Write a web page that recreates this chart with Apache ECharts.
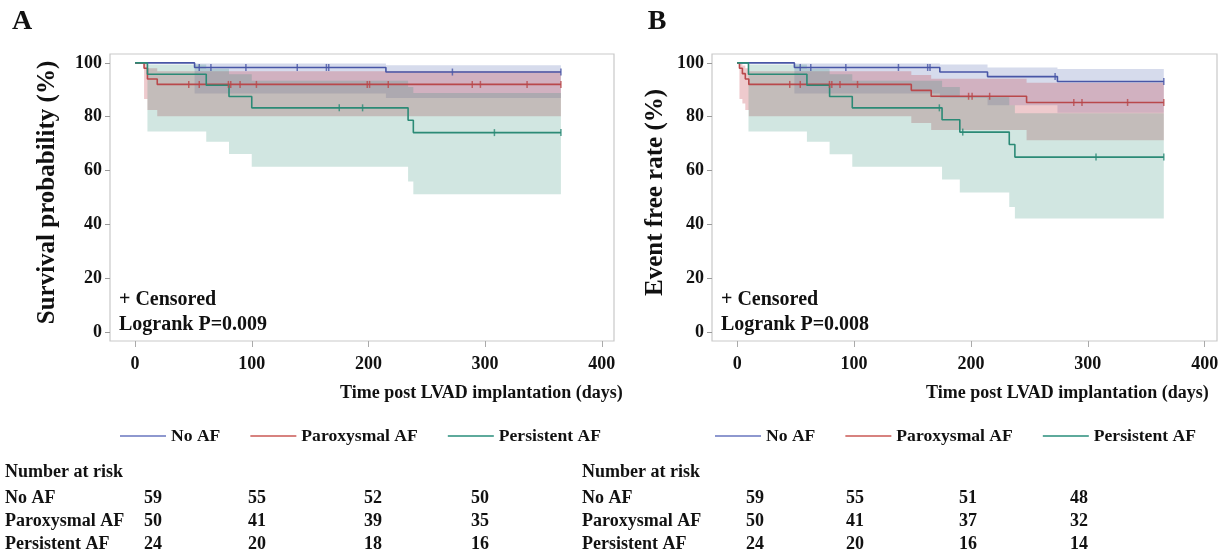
<!DOCTYPE html>
<html><head><meta charset="utf-8">
<script src="https://cdn.jsdelivr.net/npm/echarts@6/dist/echarts.min.js"></script>
<style>html,body{margin:0;padding:0;background:#fff}#c{width:1224px;height:558px}</style>
</head><body><div id="c"></div>
<script>
const FONT = '"Liberation Serif", "Times New Roman", serif';
const groups = ['No AF', 'Paroxysmal AF', 'Persistent AF'];
const END_DAY = 365;
const xTicks = [0, 100, 200, 300, 400];
const yTicks = [0, 20, 40, 60, 80, 100];

// ---- Panel A : survival ----
const A_noAF_t   = [0, 51, 215];
const A_noAF_s   = [100, 98.3, 96.6];
const A_noAF_lo  = [100, 88.6, 87.0];
const A_noAF_hi  = [100, 99.8, 99.1];
const A_noAF_cens = [55, 65, 95, 139, 164, 166, 272, 365];

const A_parox_t  = [0, 7.7, 10.6, 19];
const A_parox_s  = [100, 98, 94, 92];
const A_parox_lo = [100, 86.6, 82.5, 80.2];
const A_parox_hi = [100, 99.7, 98.0, 96.9];
const A_parox_cens = [46, 55, 80, 82, 90, 104, 199, 201, 217, 289, 296, 336, 365];

const A_pers_t   = [0, 10.6, 61, 80.5, 100, 234, 238.5];
const A_pers_s   = [100, 95.8, 91.7, 87.5, 83.3, 78.7, 74.1];
const A_pers_lo  = [100, 74.5, 70.7, 66.2, 61.4, 55.9, 51.2];
const A_pers_hi  = [100, 99.4, 97.8, 95.8, 93.4, 91.0, 88.8];
const A_pers_cens = [175, 195, 308, 365];

// ---- Panel B : event free ----
const B_noAF_t   = [0, 49, 173.4, 214.2, 274];
const B_noAF_s   = [100, 98.3, 96.6, 94.9, 93.1];
const B_noAF_lo  = [100, 88.6, 87.0, 84.3, 81.5];
const B_noAF_hi  = [100, 99.8, 99.4, 98.3, 97.7];
const B_noAF_cens = [54, 63, 93, 138, 163, 165, 272, 365];

const B_parox_t  = [0, 2, 4.5, 7, 10, 149, 166, 247.6];
const B_parox_s  = [100, 98, 96, 94, 92, 89.8, 87.6, 85.3];
const B_parox_lo = [100, 86.6, 84.9, 82.5, 80.2, 77.7, 75.1, 71.3];
const B_parox_hi = [100, 99.7, 99.0, 98.0, 96.9, 95.5, 94.1, 92.6];
const B_parox_cens = [45, 54, 79, 81, 88, 103, 198, 201, 216, 288, 295, 334, 365];

const B_pers_t   = [0, 9.7, 59.7, 79.1, 98.5, 175.3, 190.5, 232.8, 237.6];
const B_pers_s   = [100, 95.8, 91.7, 87.5, 83.3, 78.9, 74.3, 69.7, 65.0];
const B_pers_lo  = [100, 74.5, 70.7, 66.1, 61.4, 56.7, 51.9, 46.5, 42.2];
const B_pers_hi  = [100, 99.4, 97.8, 95.8, 93.4, 91.0, 87.5, 84.3, 81.3];
const B_pers_cens = [173, 193, 307, 365];

// ---- Number at risk ----
const riskA_noAF  = [59, 55, 52, 50];
const riskA_parox = [50, 41, 39, 35];
const riskA_pers  = [24, 20, 18, 16];
const riskB_noAF  = [59, 55, 51, 48];
const riskB_parox = [50, 41, 37, 32];
const riskB_pers  = [24, 20, 16, 14];

const panelTitles = ['A', 'B'];
const yTitles = ['Survival probability (%)', 'Event free rate (%)'];
const xTitle = 'Time post LVAD implantation (days)';
const logrankTexts = ['Logrank P=0.009', 'Logrank P=0.008'];

const lineColors = ['#4856a6', '#b9484b', '#2b8a76'];
const legendColors = ['#8e98cf', '#d7827f', '#5eaa9c'];
const bandColors = ['rgba(70,90,170,0.22)', 'rgba(200,80,90,0.30)', 'rgba(46,139,120,0.22)'];

const panels = [
  [[A_noAF_t, A_noAF_s, A_noAF_lo, A_noAF_hi, A_noAF_cens],
   [A_parox_t, A_parox_s, A_parox_lo, A_parox_hi, A_parox_cens],
   [A_pers_t, A_pers_s, A_pers_lo, A_pers_hi, A_pers_cens]],
  [[B_noAF_t, B_noAF_s, B_noAF_lo, B_noAF_hi, B_noAF_cens],
   [B_parox_t, B_parox_s, B_parox_lo, B_parox_hi, B_parox_cens],
   [B_pers_t, B_pers_s, B_pers_lo, B_pers_hi, B_pers_cens]]
];
const riskTables = [[riskA_noAF, riskA_parox, riskA_pers], [riskB_noAF, riskB_parox, riskB_pers]];

function stepAt(ts, ss, x) {
  let v = ss[0];
  for (let i = 0; i < ts.length; i++) if (ts[i] <= x) v = ss[i];
  return v;
}

const grids = [
  {left: 110, top: 54, width: 504, height: 287},
  {left: 712, top: 54, width: 505, height: 287}
];

const series = [];
panels.forEach((pan, pi) => {
  pan.forEach((g, gi) => {
    const [t, s, lo, hi] = g;
    series.push({
      type: 'custom', name: groups[gi] + ' CI', xAxisIndex: pi, yAxisIndex: pi, silent: true, z: 1,
      data: t.map((tt, i) => [tt, hi[i], lo[i]]),
      renderItem: (params, api) => {
        if (params.dataIndex !== 0) return null;
        const pts = [];
        for (let i = 0; i < t.length; i++) {
          const t1 = i + 1 < t.length ? t[i + 1] : END_DAY;
          pts.push(api.coord([t[i], hi[i]]));
          pts.push(api.coord([t1, hi[i]]));
        }
        for (let i = t.length - 1; i >= 0; i--) {
          const t1 = i + 1 < t.length ? t[i + 1] : END_DAY;
          pts.push(api.coord([t1, lo[i]]));
          pts.push(api.coord([t[i], lo[i]]));
        }
        return {type: 'polygon', shape: {points: pts}, style: {fill: bandColors[gi]}};
      }
    });
  });
  pan.forEach((g, gi) => {
    const [t, s] = g;
    const data = t.map((tt, i) => [tt, s[i]]).concat([[END_DAY, s[s.length - 1]]]);
    series.push({
      type: 'line', name: groups[gi], xAxisIndex: pi, yAxisIndex: pi, step: 'end', showSymbol: false, symbol: 'none',
      data: data, z: 3, lineStyle: {color: lineColors[gi], width: 1.6}, itemStyle: {color: lineColors[gi]}, animation: false
    });
  });
  pan.forEach((g, gi) => {
    const [t, s, , , cens] = g;
    series.push({
      type: 'scatter', name: groups[gi] + ' censored', xAxisIndex: pi, yAxisIndex: pi, silent: true, z: 4,
      symbol: 'rect', symbolSize: [1.5, 7],
      data: cens.map(c => [c, stepAt(t, s, c)]),
      itemStyle: {color: lineColors[gi]}
    });
  });
});

const axisLabelStyle = {fontFamily: FONT, fontSize: 18, fontWeight: 'bold', color: '#111'};
const xAxes = grids.map((g, i) => ({
  gridIndex: i, type: 'value', min: -21.5, max: 410.5,
  axisLine: {show: false, onZero: false},
  axisTick: {show: true, length: 6, lineStyle: {color: '#aaa'}, customValues: xTicks},
  axisLabel: Object.assign({customValues: xTicks, margin: 14}, axisLabelStyle),
  splitLine: {show: false}
}));
const yAxes = grids.map((g, i) => ({
  gridIndex: i, type: 'value', min: -3.3, max: 103.3,
  axisLine: {show: false, onZero: false},
  axisTick: {show: true, length: 5, lineStyle: {color: '#999'}, customValues: yTicks},
  axisLabel: Object.assign({customValues: yTicks, margin: 8}, axisLabelStyle),
  splitLine: {show: false}
}));

const graphics = [];
function txt(x, y, s, size, align, extra) {
  graphics.push(Object.assign({
    type: 'text', x: x, y: y, silent: true,
    style: {text: String(s), font: 'bold ' + size + 'px ' + FONT, fill: '#111', align: align || 'left', verticalAlign: 'middle'}
  }, extra || {}));
}
const letterX = [22, 657];
const yTitleX = [48, 656];
const xTitleX = [340, 926];
const annotX = [119, 721];
const riskLabelX = [5, 582];
const riskColX = [[153, 257, 373, 480], [755, 855, 968, 1079]];
const riskRowY = [498, 521.5, 544];

for (let p = 0; p < 2; p++) {
  txt(letterX[p], 22, panelTitles[p], 28, 'center');
  txt(yTitleX[p], 192.5, yTitles[p], 25, 'center', {rotation: Math.PI / 2});
  txt(xTitleX[p], 393, xTitle, 18, 'left');
  txt(annotX[p], 300, '+ Censored', 20, 'left');
  txt(annotX[p], 325, logrankTexts[p], 20, 'left');
  txt(riskLabelX[p], 472, 'Number at risk', 18, 'left');
  groups.forEach((gname, gi) => {
    txt(riskLabelX[p], riskRowY[gi], gname, 18, 'left');
    riskTables[p][gi].forEach((n, k) => txt(riskColX[p][k], riskRowY[gi], n, 18, 'center'));
  });
}

const legendBase = {
  top: 422, itemWidth: 46, itemHeight: 2, itemGap: 30, icon: 'rect', selectedMode: false,
  textStyle: {fontFamily: FONT, fontSize: 17.6, fontWeight: 'bold', color: '#111'},
  data: groups.map((g, i) => ({name: g, itemStyle: {color: legendColors[i]}}))
};

const chart = echarts.init(document.getElementById('c'), null, {renderer: 'canvas'});
chart.setOption({
  animation: false,
  backgroundColor: '#fff',
  grid: grids.map(g => Object.assign({show: true, borderColor: '#c9c9c9', borderWidth: 1.2, backgroundColor: 'rgba(0,0,0,0)'}, g)),
  xAxis: xAxes,
  yAxis: yAxes,
  legend: [Object.assign({left: 115}, legendBase), Object.assign({left: 710}, legendBase)],
  series: series,
  graphic: graphics
});
</script></body></html>
